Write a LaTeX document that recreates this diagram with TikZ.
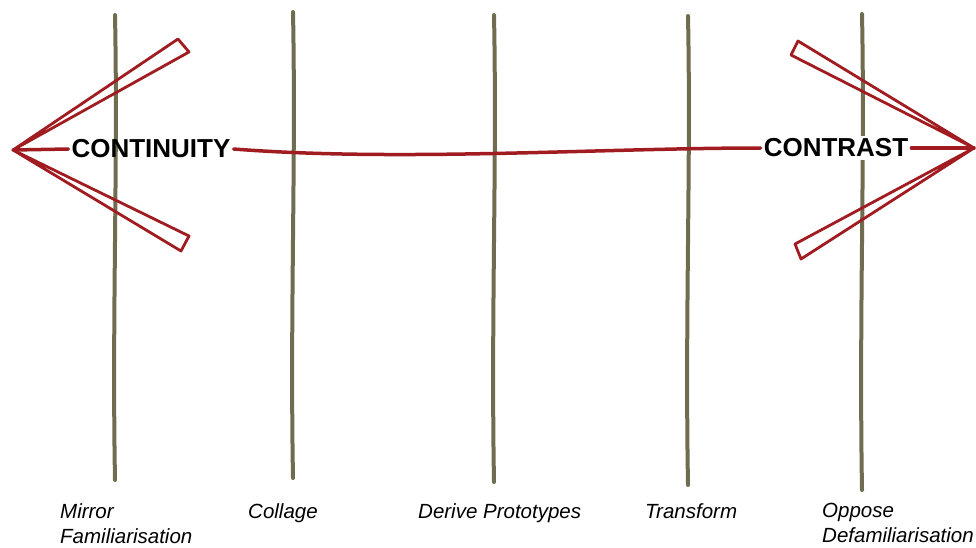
\documentclass[tikz,border=0pt]{standalone}
\usepackage{fontspec}
\setsansfont{Liberation Sans}
\definecolor{stick}{RGB}{112,108,80}
\definecolor{pull}{RGB}{160,28,32}

\begin{document}
\begin{tikzpicture}[x=1pt, y=-1pt,
  pole/.style={stick, line width=4pt, line cap=round},
  redline/.style={pull, line width=3.5pt, line cap=round},
  arm/.style={pull, line width=2.8pt, line join=round},
  pole label/.style={anchor=north west, align=left, inner sep=0pt,
    font=\fontsize{20.5}{25}\selectfont\sffamily\itshape},
  end label/.style={inner sep=3pt, font=\fontsize{26}{30}\selectfont\sffamily\bfseries}]

\useasboundingbox (0,0) rectangle (976,547);

% the five poles
\foreach \x/\t/\b in {115/15/480, 293/12/478, 494/15/482, 688/16/485, 862/14/490}{
  \draw[pole] (\x,\t) .. controls (\x+3,\t+150) and (\x-3,\t+300) .. (\x,\b);
}

% labels under the poles
\node[pole label] (mirror) at (60,503) {Mirror\\Familiarisation};
\node[pole label] (collage) at (248,503) {Collage};
\node[pole label] (derive) at (418,503) {Derive Prototypes};
\node[pole label] (transform) at (645,503) {Transform};
\node[pole label] (oppose) at (822,503) {Oppose\\Defamiliarisation};

% the two ends
\coordinate (ltip) at (13,150);
\coordinate (rtip) at (974,148);
\node[end label] (continuity) at (151,149) {CONTINUITY};
\node[end label, fill=white] (contrast) at (836,148) {CONTRAST};

\draw[redline] (continuity.east) .. controls (400,162) and (600,148) .. (contrast.west);
\draw[redline] (ltip) -- (continuity.west);
\draw[redline] (contrast.east) -- (rtip);

% arrow arms
\draw[arm] (ltip) -- (178,39) -- (189,52) -- cycle;
\draw[arm] (ltip) -- (189,236) -- (181,251) -- cycle;
\draw[arm] (rtip) -- (798,41) -- (791,55) -- cycle;
\draw[arm] (rtip) -- (795,244) -- (801,259) -- cycle;

\end{tikzpicture}
\end{document}
